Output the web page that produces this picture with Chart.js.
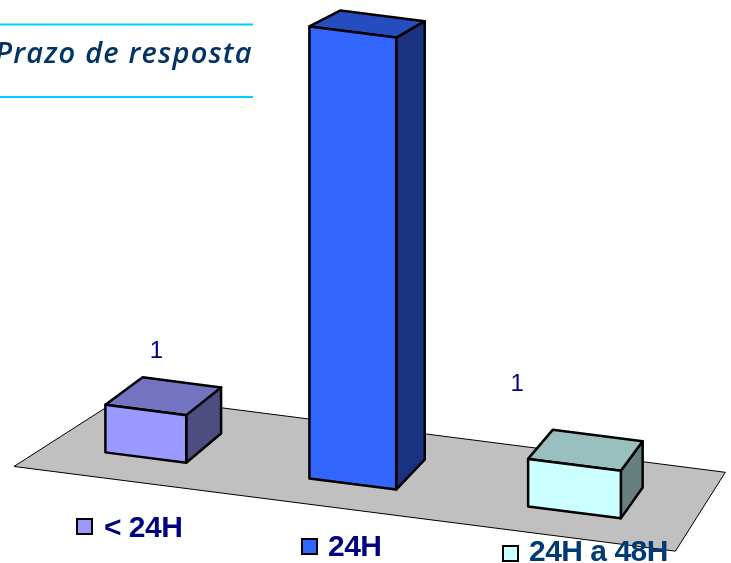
<!DOCTYPE html>
<html>
<head>
<meta charset="utf-8">
<title>Prazo de resposta</title>
<script src="https://cdn.jsdelivr.net/npm/chart.js@4/dist/chart.umd.min.js"></script>
<style>
html, body { margin: 0; padding: 0; background: #fff; overflow: hidden; }
canvas { display: block; }
</style>
</head>
<body>
<canvas id="chart" width="731" height="563"></canvas>
<script>
var titulo = 'Prazo de resposta';
var categorias = ['< 24H', '24H', '24H a 48H'];
var valores = [1, 9.5, 1];
var etiquetas = ['1', '', '1'];
var cores = ['#9999ff', '#3366ff', '#ccffff'];
var coresTexto = ['#000080', '#000080', '#003a75'];

// perspective of the old 3D chart: floor shear, bar widening, vanishing point
var shear = 0.128;
var widen = 0.00016;
var fuga = [1347, -510];
var fundo = 0.03;
var chaoFrente = -0.023;
var chaoTras = 0.053;
var chaoEsqFrente = -4;
var chaoEsqTras = 10;

// where the labels and the legend sit
var etiquetaDesvio = [[11, -52], [0, 0], [-57, -74]];
var legendaPos = [[77, 519, 104, 537], [302, 539, 328, 556], [503, 546, 529, 561]];

function projeta(chart, x, y) {
    var c = (chart.scales.x.left + chart.scales.x.right) / 2;
    var px = x + widen * (x - c) * (x - c);
    return [px, y + shear * (px - c)];
}

function recua(p, t) {
    return [p[0] + t * (fuga[0] - p[0]), p[1] + t * (fuga[1] - p[1])];
}

function poligono(ctx, pts, fill, lw) {
    ctx.beginPath();
    ctx.moveTo(pts[0][0], pts[0][1]);
    for (var i = 1; i < pts.length; i++) {
        ctx.lineTo(pts[i][0], pts[i][1]);
    }
    ctx.closePath();
    ctx.fillStyle = fill;
    ctx.fill();
    ctx.lineWidth = lw;
    ctx.strokeStyle = '#000';
    ctx.stroke();
}

function escurece(hex, f) {
    var n = parseInt(hex.slice(1), 16);
    var r = Math.round((n >> 16 & 255) * f);
    var g = Math.round((n >> 8 & 255) * f);
    var b = Math.round((n & 255) * f);
    return 'rgb(' + r + ',' + g + ',' + b + ')';
}

var caixas3d = {
    id: 'caixas3d',
    beforeDatasetsDraw: function(chart) {
        // grey floor
        var ctx = chart.ctx;
        var sx = chart.scales.x;
        var base = chart.scales.y.bottom;
        var dir = projeta(chart, sx.right, base);
        var esqF = projeta(chart, sx.left + chaoEsqFrente, base);
        var esqT = projeta(chart, sx.left + chaoEsqTras, base);
        ctx.save();
        ctx.lineJoin = 'miter';
        poligono(ctx, [recua(esqF, chaoFrente), recua(dir, chaoFrente), recua(dir, chaoTras), recua(esqT, chaoTras)], '#c0c0c0', 1);
        ctx.restore();
    },
    beforeDatasetDraw: function(chart, args) {
        var ctx = chart.ctx;
        var ds = chart.data.datasets[args.index];
        var barras = args.meta.data;
        ctx.save();
        ctx.lineJoin = 'round';
        for (var i = 0; i < barras.length; i++) {
            var b = barras[i];
            var l = b.x - b.width / 2;
            var r = b.x + b.width / 2;
            var tl = projeta(chart, l, b.y);
            var tr = projeta(chart, r, b.y);
            var br = projeta(chart, r, b.base);
            var bl = projeta(chart, l, b.base);
            poligono(ctx, [tr, br, recua(br, fundo), recua(tr, fundo)], escurece(ds.backgroundColor[i], 0.5), 2.5);
            poligono(ctx, [tl, tr, recua(tr, fundo), recua(tl, fundo)], escurece(ds.backgroundColor[i], 0.75), 2.5);
            poligono(ctx, [tl, tr, br, bl], ds.backgroundColor[i], 2.5);
        }
        ctx.restore();
        return false;
    },
    afterDraw: function(chart) {
        var ctx = chart.ctx;
        var barras = chart.getDatasetMeta(0).data;
        var i;
        ctx.save();

        // value labels
        ctx.font = '24px "Liberation Sans"';
        ctx.fillStyle = '#000080';
        ctx.textAlign = 'center';
        ctx.textBaseline = 'alphabetic';
        for (i = 0; i < barras.length; i++) {
            if (etiquetas[i] === '') continue;
            var topo = projeta(chart, barras[i].x, barras[i].y);
            ctx.fillText(etiquetas[i], topo[0] + etiquetaDesvio[i][0], topo[1] + etiquetaDesvio[i][1]);
        }

        // legend, each item sits on its own line
        ctx.textAlign = 'left';
        ctx.font = 'bold 30px "Liberation Sans"';
        ctx.letterSpacing = '-0.5px';
        for (i = 0; i < categorias.length; i++) {
            var pos = legendaPos[i];
            ctx.fillStyle = cores[i];
            ctx.strokeStyle = '#000';
            ctx.lineWidth = 2;
            ctx.fillRect(pos[0], pos[1], 15, 15);
            ctx.strokeRect(pos[0], pos[1], 15, 15);
            ctx.fillStyle = coresTexto[i];
            ctx.fillText(categorias[i], pos[2], pos[3]);
        }
        ctx.letterSpacing = '0px';

        // title between the two cyan lines
        ctx.strokeStyle = '#00ccff';
        ctx.lineWidth = 2;
        ctx.beginPath();
        ctx.moveTo(0, 24.5);
        ctx.lineTo(253, 24.5);
        ctx.moveTo(0, 97);
        ctx.lineTo(253, 97);
        ctx.stroke();
        ctx.font = 'italic 600 29px "Open Sans"';
        ctx.letterSpacing = '1.2px';
        ctx.fillStyle = '#003366';
        ctx.fillText(titulo, -5, 63);
        ctx.restore();
    }
};

new Chart(document.getElementById('chart'), {
    type: 'bar',
    data: {
        labels: categorias,
        datasets: [{
            label: titulo,
            data: valores,
            backgroundColor: cores,
            categoryPercentage: 1,
            barPercentage: 0.405
        }]
    },
    options: {
        responsive: false,
        animation: false,
        layout: { padding: { left: 31, right: 57, top: 32, bottom: 79 } },
        plugins: { legend: { display: false }, tooltip: { enabled: false } },
        scales: {
            x: { display: false },
            y: { display: false, min: 0, max: 9.5 }
        }
    },
    plugins: [caixas3d]
});
</script>
</body>
</html>
